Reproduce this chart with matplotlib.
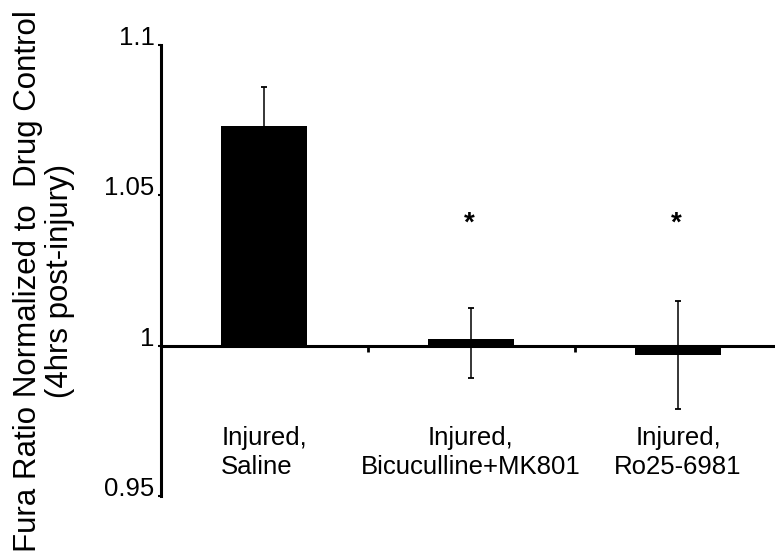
import matplotlib
matplotlib.use("Agg")
import matplotlib.pyplot as plt
from matplotlib import font_manager

# ---- data ----
categories = ["Injured,\nSaline", "Injured,\nBicuculline+MK801", "Injured,\nRo25-6981"]
values = [1.073, 1.0022, 0.997]
err_low = [0.013, 0.0128, 0.0179]
err_high = [0.0131, 0.0102, 0.0179]
significant = [False, True, True]
y_ticks = [0.95, 1.0, 1.05, 1.1]
y_tick_labels = ["0.95", "1", "1.05", "1.1"]
y_label = "Fura Ratio Normalized to  Drug Control\n(4hrs post-injury)"

plt.rcParams['font.family'] = ['Liberation Sans', 'DejaVu Sans']

names = {f.name for f in font_manager.fontManager.ttflist}
if 'Liberation Sans Narrow' in names:
    cat_family = ['Liberation Sans Narrow', 'Liberation Sans']
    cat_size = 22
else:
    cat_family = ['Liberation Sans', 'DejaVu Sans']
    cat_size = 18.5

W, H = 775, 557
fig = plt.figure(figsize=(W / 100, H / 100), dpi=100)
left_px, right_px, top_px, bottom_px = 160.5, 775, 45, 496
ax = fig.add_axes([left_px / W, (H - bottom_px) / H,
                   (right_px - left_px) / W, (bottom_px - top_px) / H])

x = list(range(len(categories)))
heights = [v - 1 for v in values]
ax.bar(x, heights, bottom=1, width=0.415, color='black', zorder=2)
ax.errorbar(x, values, yerr=[err_low, err_high], fmt='none', ecolor='black',
            elinewidth=1.1, capsize=2.5, capthick=1.3, zorder=3)

for xi, sig in zip(x, significant):
    if sig:
        ax.text(xi - 0.01, 1.0384, "*", ha='center', va='baseline',
                fontsize=20, fontweight='bold')

cat_w = 207.0
ax.set_xlim(-0.5, -0.5 + (right_px - left_px) / cat_w)
ax.set_ylim(0.95, 1.1)

ax.spines['top'].set_visible(False)
ax.spines['right'].set_visible(False)
ax.spines['left'].set_linewidth(2.2)
ax.spines['bottom'].set_position(('data', 1.0))
ax.spines['bottom'].set_linewidth(2.2)
ax.spines['bottom'].set_zorder(2.5)

ax.set_xticks([0.5, 1.5])
ax.set_xticklabels([])
ax.tick_params(axis='x', direction='out', length=4, width=2)

ax.tick_params(axis='y', direction='out', length=2.2, width=1.5, pad=2)
ax.set_yticks(y_ticks)
ax.set_yticklabels(y_tick_labels, fontsize=18.5, va='baseline')

for xi, lab in zip(x, categories):
    ma = 'left' if xi == 0 else 'center'
    ax.text(xi, 0.9734, lab, ha='center', va='top', multialignment=ma,
            fontsize=cat_size, family=cat_family, linespacing=1.3)

fig.text(44 / W, 1 - 281 / H, y_label, rotation=90, ha='center', va='center',
         fontsize=22.5, linespacing=1.07)

fig.savefig("out.png", dpi=100, facecolor='white')
